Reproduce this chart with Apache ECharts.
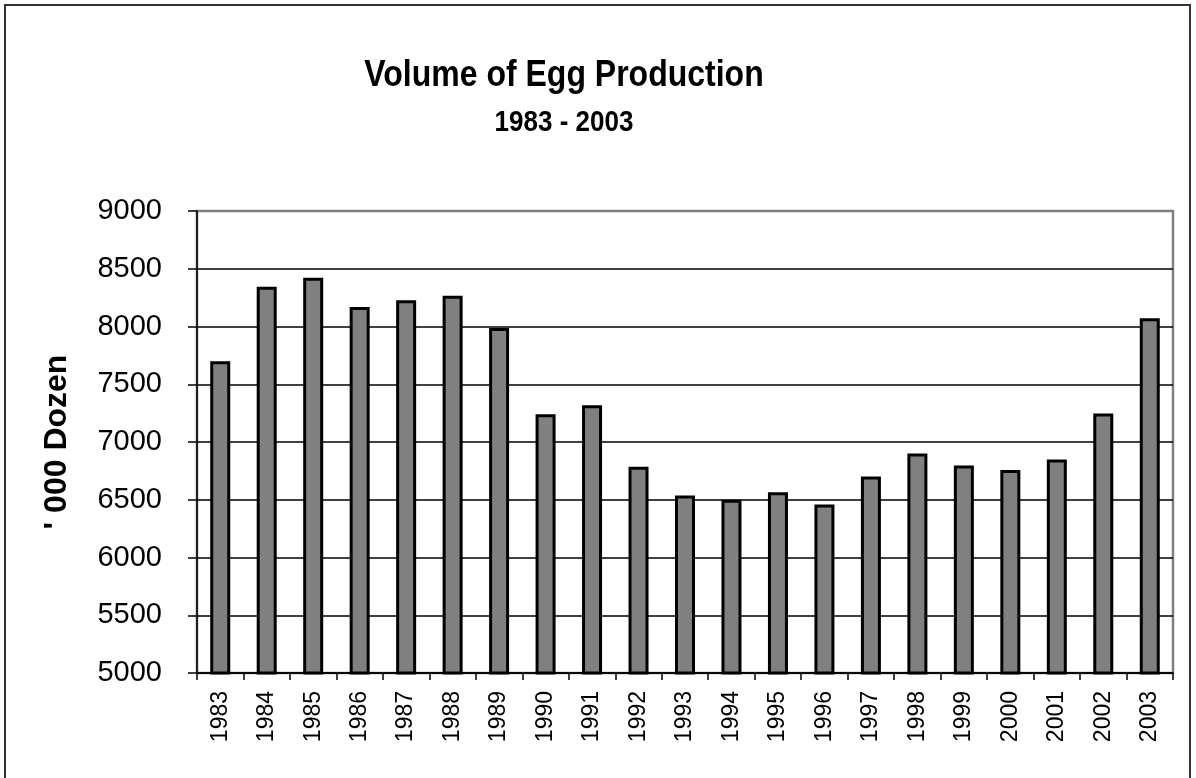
<!DOCTYPE html>
<html>
<head>
<meta charset="utf-8">
<title>Volume of Egg Production</title>
<script src="https://cdn.jsdelivr.net/npm/echarts@6/dist/echarts.min.js"></script>
<style>
  html, body { margin: 0; padding: 0; background: #fff; }
  #eggChart { width: 1196px; height: 778px; }
</style>
</head>
<body>
<div id="eggChart"></div>
<script>
// years on the x axis
const years = ['1983', '1984', '1985', '1986', '1987', '1988', '1989', '1990', '1991', '1992', '1993',
  '1994', '1995', '1996', '1997', '1998', '1999', '2000', '2001', '2002', '2003'];
// volume, '000 dozen
const eggVolume = [7700, 8345, 8422, 8169, 8227, 8267, 7988, 7240, 7318, 6786, 6537,
  6500, 6566, 6459, 6702, 6900, 6796, 6757, 6848, 7246, 8072];
const yTicks = [5000, 5500, 6000, 6500, 7000, 7500, 8000, 8500, 9000];

const font = 'Arial, "Liberation Sans", sans-serif';
const myChart = echarts.init(document.getElementById('eggChart'), null, { renderer: 'canvas' });

// gridlines are black, only the top one (plot border) is grey
const gridColors = yTicks.map((v, i) => (i === yTicks.length - 1 ? '#808080' : '#000'));

const option = {
  backgroundColor: '#fff',
  animation: false,
  graphic: [
    {
      // outer frame of the chart
      type: 'rect',
      shape: { x: 5, y: 5, width: 1185, height: 790 },
      style: { fill: 'none', stroke: '#333', lineWidth: 2 },
      silent: true
    },
    {
      type: 'text',
      x: 564, y: 57,
      scaleY: 1.15,
      style: { text: 'Volume of Egg Production', align: 'center', verticalAlign: 'top',
        font: 'bold 32px ' + font, fill: '#000' }
    },
    {
      type: 'text',
      x: 564, y: 108,
      scaleY: 1.15,
      style: { text: '1983 - 2003', align: 'center', verticalAlign: 'top',
        font: 'bold 26px ' + font, fill: '#000' }
    }
  ],
  grid: {
    left: 197,
    top: 211,
    right: 23,
    bottom: 105,
    show: true,
    borderColor: '#808080',
    borderWidth: 2.5
  },
  xAxis: {
    type: 'category',
    data: years,
    axisLine: { lineStyle: { color: '#000', width: 1.5 } },
    axisTick: { show: true, length: 7, lineStyle: { color: '#000', width: 1.5 } },
    axisLabel: {
      rotate: 90,
      interval: 0,
      margin: 18,
      fontSize: 23,
      fontFamily: font,
      color: '#000'
    }
  },
  yAxis: {
    type: 'value',
    min: yTicks[0],
    max: yTicks[yTicks.length - 1],
    interval: 500,
    name: "' 000 Dozen",
    nameLocation: 'middle',
    nameRotate: 90,
    nameGap: 124,
    nameTextStyle: { fontSize: 32, fontWeight: 'bold', fontFamily: font, color: '#000' },
    axisLine: { show: true, lineStyle: { color: '#000', width: 1.5 } },
    axisTick: { show: true, length: 9, lineStyle: { color: '#000', width: 1.5 } },
    axisLabel: {
      margin: 35,
      fontSize: 29,
      fontFamily: font,
      color: '#000',
      formatter: (v) => String(v)
    },
    splitLine: { show: true, lineStyle: { color: gridColors, width: 1.5 } }
  },
  series: [
    {
      name: 'Egg production',
      type: 'bar',
      data: eggVolume,
      barWidth: 20,
      itemStyle: { color: '#808080', borderColor: '#000', borderWidth: 3 }
    }
  ]
};

myChart.setOption(option);
</script>
</body>
</html>
